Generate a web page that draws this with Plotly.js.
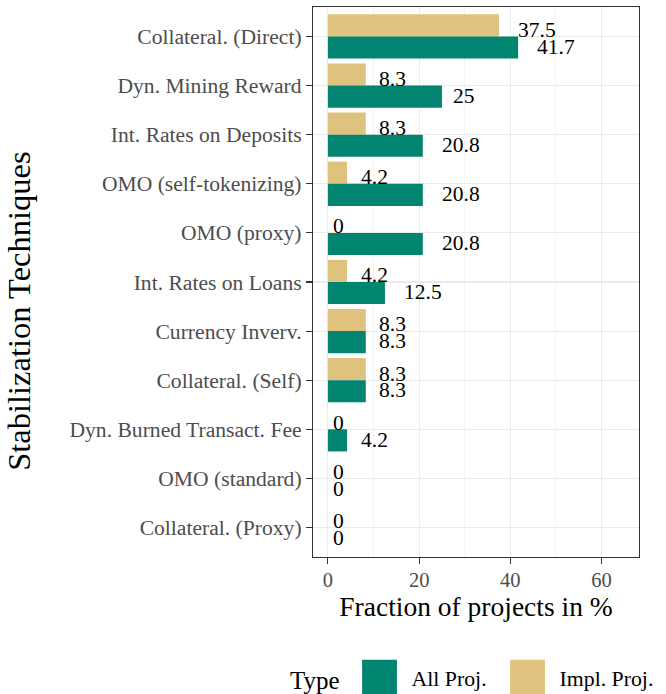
<!DOCTYPE html>
<html>
<head>
<meta charset="utf-8">
<script src="https://cdn.plot.ly/plotly-3.0.1.min.js"></script>
<style>html,body{margin:0;padding:0;background:#fff;}</style>
</head>
<body>
<div id="chart" style="width:666px;height:694px;"></div>
<script>
// Categories, top to bottom
const categories = [
  "Collateral. (Direct)",
  "Dyn. Mining Reward",
  "Int. Rates on Deposits",
  "OMO (self-tokenizing)",
  "OMO (proxy)",
  "Int. Rates on Loans",
  "Currency Inverv.",
  "Collateral. (Self)",
  "Dyn. Burned Transact. Fee",
  "OMO (standard)",
  "Collateral. (Proxy)"
];
const allProj  = [41.7, 25, 20.8, 20.8, 20.8, 12.5, 8.3, 8.3, 4.2, 0, 0];
const implProj = [37.5, 8.3, 8.3, 4.2, 0, 4.2, 8.3, 8.3, 0, 0, 0];
const seriesNames = ["All Proj.", "Impl. Proj."];
const seriesColors = ["#018571", "#DFC27D"];
const xTicks = [0, 20, 40, 60];

const SERIF = '"Liberation Serif", "Times New Roman", serif';
const LABEL_SIZE = 21.5;

const canvas = document.createElement('canvas');
const ctx = canvas.getContext('2d');
ctx.font = LABEL_SIZE + 'px "Liberation Serif"';
function halfWidth(s){ return ctx.measureText(s).width / 2; }

const traces = [
  { type: 'bar', orientation: 'h', name: seriesNames[1], x: implProj, y: categories,
    marker: {color: seriesColors[1]}, hoverinfo: 'x+y+name', legendrank: 2, legendwidth: 96 },
  { type: 'bar', orientation: 'h', name: seriesNames[0], x: allProj, y: categories,
    marker: {color: seriesColors[0]}, hoverinfo: 'x+y+name', legendrank: 1, legendwidth: 79 }
];

const annotations = [];
const dodge = 0.1875;
categories.forEach((c, i) => {
  [[implProj, -dodge, -2.5], [allProj, dodge, -1]].forEach(([arr, off, ys]) => {
    const t = String(arr[i]);
    annotations.push({
      x: arr[i], y: i + off, xref: 'x', yref: 'y', text: t, showarrow: false,
      xanchor: 'left', yanchor: 'middle', xshift: halfWidth(t) - 2, yshift: ys,
      font: {family: SERIF, size: LABEL_SIZE, color: '#000'}
    });
  });
});
annotations.push({
  text: 'Stabilization Techniques', textangle: -90, showarrow: false,
  xref: 'paper', yref: 'paper', x: -0.9, y: 0.447, xanchor: 'center', yanchor: 'middle',
  font: {family: SERIF, size: 32.5, color: '#000'}
});

const layout = {
  width: 666, height: 694,
  margin: {l: 313, r: 27, t: 7, b: 137, autoexpand: false},
  paper_bgcolor: '#fff', plot_bgcolor: '#fff',
  barmode: 'group', bargap: 0.1, bargroupgap: 0,
  font: {family: SERIF},
  xaxis: {
    range: [-3.27, 68.2], tickmode: 'array', tickvals: xTicks,
    ticks: 'outside', ticklen: 6, tickwidth: 1.1, tickcolor: '#333',
    ticklabelstandoff: -2,
    tickfont: {family: SERIF, size: 20.5, color: '#4d4d4d'},
    showgrid: true, gridcolor: '#ebebeb', gridwidth: 1.1, zeroline: false,
    minor: {dtick: 10, tick0: 0, showgrid: true, gridcolor: '#ebebeb', gridwidth: 0.55, ticks: ''},
    showline: true, mirror: true, linecolor: '#333', linewidth: 1.1,
    title: {text: 'Fraction of projects in %', font: {family: SERIF, size: 27.5, color: '#000'}, standoff: 6}
  },
  yaxis: {
    type: 'category', categoryorder: 'array', categoryarray: categories,
    range: [10.6, -0.6],
    ticks: 'outside', ticklen: 6, tickwidth: 1.1, tickcolor: '#333',
    tickfont: {family: SERIF, size: 21.6, color: '#4d4d4d'},
    showgrid: true, gridcolor: '#ebebeb', gridwidth: 1.1, zeroline: false,
    showline: true, mirror: true, linecolor: '#333', linewidth: 1.1
  },
  showlegend: true,
  legend: {
    orientation: 'h', x: -0.077, xanchor: 'left', y: -0.22, yanchor: 'middle',
    title: {text: 'Type', side: 'left', font: {family: SERIF, size: 25, color: '#000'}},
    font: {family: SERIF, size: 21.8, color: '#000'},
    itemwidth: 54, bgcolor: 'rgba(0,0,0,0)'
  },
  annotations: annotations
};

Plotly.newPlot('chart', traces, layout, {displayModeBar: false, staticPlot: true}).then(gd => {
  gd.querySelectorAll('.legend .legendpoints path').forEach(p => {
    const tr = p.getAttribute('transform') || '';
    p.setAttribute('transform', tr + ' scale(2.9)');
  });
});
</script>
</body>
</html>
